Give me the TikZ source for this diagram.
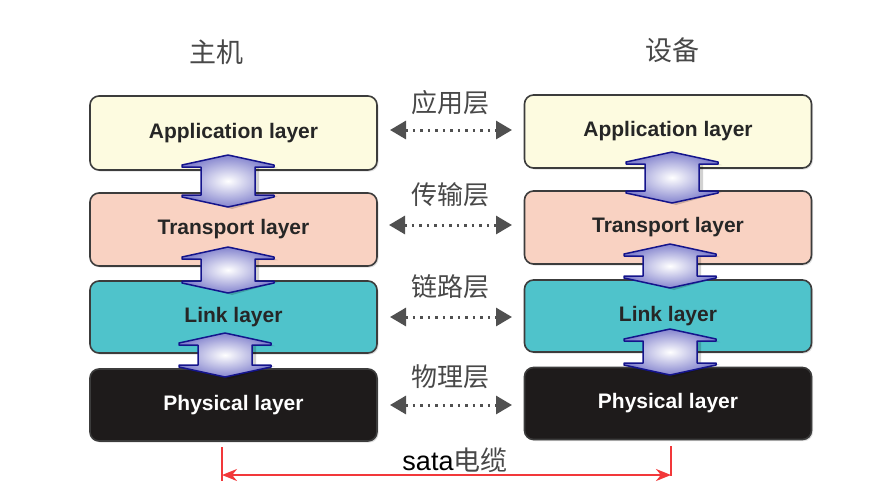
\documentclass[tikz,border=0pt]{standalone}
\usepackage{fontspec}
\setmainfont{Liberation Sans}
\newfontfamily\cjk{Noto Sans CJK SC}
\usetikzlibrary{arrows.meta,shadows}
\definecolor{appc}{HTML}{FDFBE0}
\definecolor{trac}{HTML}{F9D2C2}
\definecolor{linc}{HTML}{4FC3CB}
\definecolor{phyc}{HTML}{1E1B1B}
\definecolor{edgec}{HTML}{3C3C3C}
\definecolor{arrblue}{HTML}{14148C}
\definecolor{lav}{HTML}{8484CE}
\definecolor{labc}{HTML}{484848}
\definecolor{dotc}{HTML}{505050}
\definecolor{redc}{HTML}{F2383A}
\tikzset{
  layerbox/.style={draw=edgec, line width=1.6pt, rounded corners=9pt,
    minimum width=287pt, font=\bfseries\fontsize{21}{25}\selectfont,
    text=black!85, drop shadow={opacity=0.25, shadow xshift=1.5pt, shadow yshift=-1.5pt}},
  cjklabel/.style={font=\cjk\fontsize{26}{30}\selectfont, text=labc},
  dotarrow/.style={dotc, line width=3pt, dash pattern=on 2.5pt off 5pt,
    {Triangle[length=16pt,width=18pt]}-{Triangle[length=16pt,width=18pt]}},
  redline/.style={redc, line width=2.4pt},
  redarrow/.style={redc, line width=2.4pt, {Stealth[length=15pt,width=12pt]}-{Stealth[length=15pt,width=12pt]}},
}
\newcommand\blockarrow[3]{%
  \fill[black, opacity=0.18] ({#1+4},{#2+2}) -- ({#1+50},{#2+13}) -- ({#1+31},{#2+13}) -- ({#1+31},{#3-11}) -- ({#1+50},{#3-11}) -- ({#1+4},{#3+2}) -- ({#1-42},{#3-11}) -- ({#1-23},{#3-11}) -- ({#1-23},{#2+13}) -- ({#1-42},{#2+13}) -- cycle;
  \shade[draw=arrblue, line width=1.5pt, line join=round, inner color=white, outer color=lav]
    (#1,#2) -- ({#1+46},{#2+10}) -- ({#1+46},{#2+12}) -- ({#1+27},{#2+12}) -- ({#1+27},{#3-12}) -- ({#1+46},{#3-12}) -- ({#1+46},{#3-10}) -- (#1,#3) -- ({#1-46},{#3-10}) -- ({#1-46},{#3-12}) -- ({#1-27},{#3-12}) -- ({#1-27},{#2+12}) -- ({#1-46},{#2+12}) -- ({#1-46},{#2+10}) -- cycle;
}
\begin{document}
\begin{tikzpicture}[x=1pt,y=-1pt]
\useasboundingbox (0,0) rectangle (886,496);
% titles
\node[cjklabel, font=\cjk\fontsize{27}{31}\selectfont] (host) at (216,52) {主机};
\node[cjklabel, font=\cjk\fontsize{27}{31}\selectfont] (dev) at (672,50) {设备};
% left stack
\node[layerbox, fill=appc, minimum height=74pt] (lapp) at (233.5,133) {Application layer};
\node[layerbox, fill=trac, minimum height=73pt] (ltra) at (233.5,229.5) {Transport layer};
\node[layerbox, fill=linc, minimum height=72pt] (llin) at (233.5,317) {Link layer};
\node[layerbox, fill=phyc, minimum height=72pt, text=white] (lphy) at (233.5,405) {Physical layer};
% right stack
\node[layerbox, fill=appc, minimum height=73pt] (rapp) at (668,131.5) {Application layer};
\node[layerbox, fill=trac, minimum height=73pt] (rtra) at (668,227.5) {Transport layer};
\node[layerbox, fill=linc, minimum height=72pt] (rlin) at (668,316) {Link layer};
\node[layerbox, fill=phyc, minimum height=72pt, text=white] (rphy) at (668,403.5) {Physical layer};
% block arrows
\blockarrow{228}{155}{207}
\blockarrow{228}{247}{293}
\blockarrow{225}{333}{377}
\blockarrow{672}{152}{203}
\blockarrow{670}{244}{288}
\blockarrow{670}{329}{375}
% peer labels
\node[cjklabel] (l1) at (450,103) {应用层};
\node[cjklabel] (l2) at (450,195) {传输层};
\node[cjklabel] (l3) at (450,287) {链路层};
\node[cjklabel] (l4) at (450,377) {物理层};
% dotted arrows
\coordinate (d1a) at (390,130); \coordinate (d1b) at (512,130);
\coordinate (d2a) at (389,225); \coordinate (d2b) at (512,225);
\coordinate (d3a) at (390,317); \coordinate (d3b) at (512,317);
\coordinate (d4a) at (390,405); \coordinate (d4b) at (512,405);
\draw[dotarrow] (d1a) -- (d1b);
\draw[dotarrow] (d2a) -- (d2b);
\draw[dotarrow] (d3a) -- (d3b);
\draw[dotarrow] (d4a) -- (d4b);
% sata cable
\coordinate (ra) at (222,447); \coordinate (rb) at (222,481);
\coordinate (rc) at (671,446); \coordinate (rd) at (671,476);
\coordinate (rl) at (222,475); \coordinate (rr) at (671,475);
\draw[redline] (ra) -- (rb);
\draw[redline] (rc) -- (rd);
\draw[redarrow] (rl) -- (rr);
\node (sata) at (455,460) {\fontsize{27}{31}\selectfont sata\textcolor{labc}{\cjk 电缆}};
\end{tikzpicture}
\end{document}
